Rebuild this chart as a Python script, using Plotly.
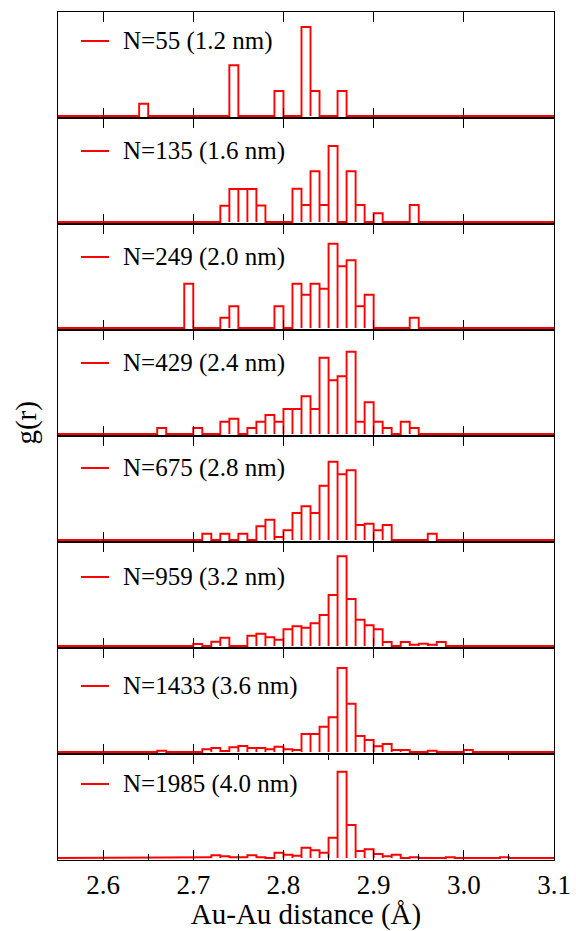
import plotly.graph_objects as go
from plotly.subplots import make_subplots

# Histogram bin width (Å) and the displayed distance window
BIN = 0.01
X_MIN, X_MAX = 2.55, 3.10

labels = [
    "N=55 (1.2 nm)",
    "N=135 (1.6 nm)",
    "N=249 (2.0 nm)",
    "N=429 (2.4 nm)",
    "N=675 (2.8 nm)",
    "N=959 (3.2 nm)",
    "N=1433 (3.6 nm)",
    "N=1985 (4.0 nm)",
]

# Lower bin edges (Å) and g(r) heights (arbitrary units) for each cluster size
r_55 = [2.64, 2.74, 2.79, 2.82, 2.83, 2.86]
g_55 = [1.23, 5.07, 2.50, 8.90, 2.50, 2.50]

r_135 = [2.73, 2.74, 2.75, 2.76, 2.77, 2.81, 2.82, 2.83, 2.84, 2.85, 2.87, 2.88, 2.90, 2.94]
g_135 = [1.62, 3.30, 3.30, 3.30, 1.65, 3.33, 1.70, 5.07, 1.70, 7.60, 5.07, 1.70, 0.87, 1.70]

r_249 = [2.69, 2.73, 2.74, 2.79, 2.81, 2.82, 2.83, 2.84, 2.85, 2.86, 2.87, 2.88, 2.89, 2.94]
g_249 = [4.43, 1.03, 2.17, 2.17, 4.43, 3.33, 4.43, 3.93, 8.43, 6.17, 6.77, 2.17, 3.33, 1.03]

r_429 = [2.66, 2.70, 2.73, 2.74, 2.76, 2.77, 2.78, 2.79, 2.80, 2.81, 2.82, 2.83,
         2.84, 2.85, 2.86, 2.87, 2.88, 2.89, 2.90, 2.91, 2.93, 2.94]
g_429 = [0.60, 0.60, 1.23, 1.53, 0.60, 1.23, 1.90, 1.23, 2.50, 2.50, 3.77, 2.50,
         7.63, 5.37, 5.77, 8.23, 1.23, 3.17, 1.23, 0.60, 1.23, 0.60]

r_675 = [2.71, 2.73, 2.75, 2.77, 2.78, 2.79, 2.80, 2.81, 2.82, 2.83, 2.84, 2.85,
         2.86, 2.87, 2.88, 2.89, 2.90, 2.91, 2.96]
g_675 = [0.63, 0.63, 0.63, 1.37, 2.03, 0.30, 0.97, 2.70, 3.37, 2.70, 5.43, 7.83,
         6.57, 6.97, 1.50, 1.63, 0.97, 1.50, 0.63]

r_959 = [2.70, 2.72, 2.73, 2.76, 2.77, 2.78, 2.79, 2.80, 2.81, 2.82, 2.83, 2.84,
         2.85, 2.86, 2.87, 2.88, 2.89, 2.90, 2.91, 2.93, 2.94, 2.95, 2.96, 2.97]
g_959 = [0.20, 0.43, 0.83, 1.03, 1.23, 0.87, 0.63, 1.67, 1.97, 1.83, 2.27, 3.10,
         5.10, 8.97, 4.70, 2.63, 2.07, 1.67, 0.40, 0.40, 0.13, 0.23, 0.13, 0.40]

r_1433 = [2.66, 2.71, 2.72, 2.73, 2.74, 2.75, 2.76, 2.77, 2.78, 2.79, 2.80, 2.81,
          2.82, 2.83, 2.84, 2.85, 2.86, 2.87, 2.88, 2.89, 2.90, 2.91, 2.92, 2.93,
          2.96, 3.00]
g_1433 = [0.13, 0.27, 0.40, 0.10, 0.47, 0.60, 0.40, 0.40, 0.27, 0.53, 0.27, 0.20,
          1.80, 1.80, 2.53, 3.47, 8.40, 4.83, 1.60, 1.20, 0.57, 0.80, 0.20, 0.20,
          0.13, 0.20]

r_1985 = [2.68, 2.70, 2.71, 2.72, 2.73, 2.74, 2.75, 2.76, 2.77, 2.79, 2.80, 2.81,
          2.82, 2.83, 2.84, 2.85, 2.86, 2.87, 2.88, 2.89, 2.90, 2.91, 2.92, 2.94,
          2.98, 3.04]
g_1985 = [0.07, 0.07, 0.07, 0.27, 0.17, 0.07, 0.07, 0.27, 0.07, 0.53, 0.33, 0.23,
          1.03, 0.77, 0.53, 2.03, 8.63, 3.30, 0.70, 0.87, 0.40, 0.17, 0.33, 0.07,
          0.07, 0.07]

x_ticks = [2.6, 2.7, 2.8, 2.9, 3.0, 3.1]
x_ticktext = ["2.6", "2.7", "2.8", "2.9", "3.0", "3.1"]

panels = [
    (labels[0], r_55, g_55),
    (labels[1], r_135, g_135),
    (labels[2], r_249, g_249),
    (labels[3], r_429, g_429),
    (labels[4], r_675, g_675),
    (labels[5], r_959, g_959),
    (labels[6], r_1433, g_1433),
    (labels[7], r_1985, g_1985),
]

FONT = "Liberation Serif, Times New Roman, serif"
N = len(panels)
RED = "#ff0000"

# Figure geometry (px)
W, H = 576, 931
M_L, M_R, M_T, M_B = 58, 22, 12, 71
PLOT_W = W - M_L - M_R
PANEL_H = (H - M_T - M_B) / N

# Key placement inside each panel (px from the panel's left / top edge)
KEY_X0, KEY_X1, TEXT_X = 23, 51, 63
KEY_DY = [29, 33, 33, 33, 32, 35, 38, 30]


def step_outline(edges, heights):
    """Open-bar histogram outline running along the baseline between bins."""
    xs, ys = [X_MIN], [0.0]
    for left, h in sorted(zip(edges, heights)):
        right = left + BIN
        xs += [left, left, right, right]
        ys += [0.0, h, h, 0.0]
    xs.append(X_MAX)
    ys.append(0.0)
    return xs, ys


fig = make_subplots(rows=N, cols=1, shared_xaxes=False, vertical_spacing=0)

for i, (label, edges, heights) in enumerate(panels, start=1):
    xs, ys = step_outline(edges, heights)
    fig.add_trace(
        go.Scatter(
            x=xs, y=ys, mode="lines", name=label,
            line=dict(color=RED, width=1.9),
            showlegend=False, hoverinfo="skip",
        ),
        row=i, col=1,
    )

    last = i == N
    xa = dict(
        range=[X_MIN, X_MAX], showgrid=False, zeroline=False, automargin=False,
        showline=True, linecolor="black", linewidth=1.3, mirror="ticks",
        ticks="inside", ticklen=10, tickwidth=1.2, tickcolor="black",
        tickvals=x_ticks, ticktext=x_ticktext,
        showticklabels=last,
        tickfont=dict(family=FONT, size=27, color="black"),
    )
    if last:
        xa["minor"] = dict(ticks="inside", ticklen=6, tickwidth=1.2,
                           tickcolor="black", dtick=0.05, tick0=2.6)
        xa["title"] = dict(text="Au-Au distance (Å)",
                           font=dict(family=FONT, size=29, color="black"),
                           standoff=6)
    fig.update_xaxes(**xa, row=i, col=1)
    fig.update_yaxes(
        range=[-0.2, 10.4], showgrid=False, zeroline=False, automargin=False,
        showline=True, linecolor="black", linewidth=1.3, mirror=True,
        ticks="", showticklabels=False,
        row=i, col=1,
    )

    # Key: short red line plus the cluster label
    sfx = "" if i == 1 else str(i)
    ky = 1 - KEY_DY[i - 1] / PANEL_H
    fig.add_shape(
        type="line", xref=f"x{sfx} domain", yref=f"y{sfx} domain",
        x0=KEY_X0 / PLOT_W, x1=KEY_X1 / PLOT_W, y0=ky, y1=ky,
        line=dict(color=RED, width=2),
    )
    fig.add_annotation(
        text=label, showarrow=False,
        xref=f"x{sfx} domain", yref=f"y{sfx} domain",
        x=TEXT_X / PLOT_W, y=ky, xanchor="left", yanchor="middle",
        font=dict(family=FONT, size=25, color="black"),
    )

fig.add_annotation(
    text="g(r)", textangle=-90, showarrow=False,
    xref="paper", yref="paper", x=-0.064, y=0.515,
    xanchor="center", yanchor="middle",
    font=dict(family=FONT, size=29, color="black"),
)

fig.update_layout(
    width=W, height=H,
    margin=dict(l=M_L, r=M_R, t=M_T, b=M_B, autoexpand=False),
    plot_bgcolor="white", paper_bgcolor="white",
    showlegend=False,
)

fig.write_html("out.html")
